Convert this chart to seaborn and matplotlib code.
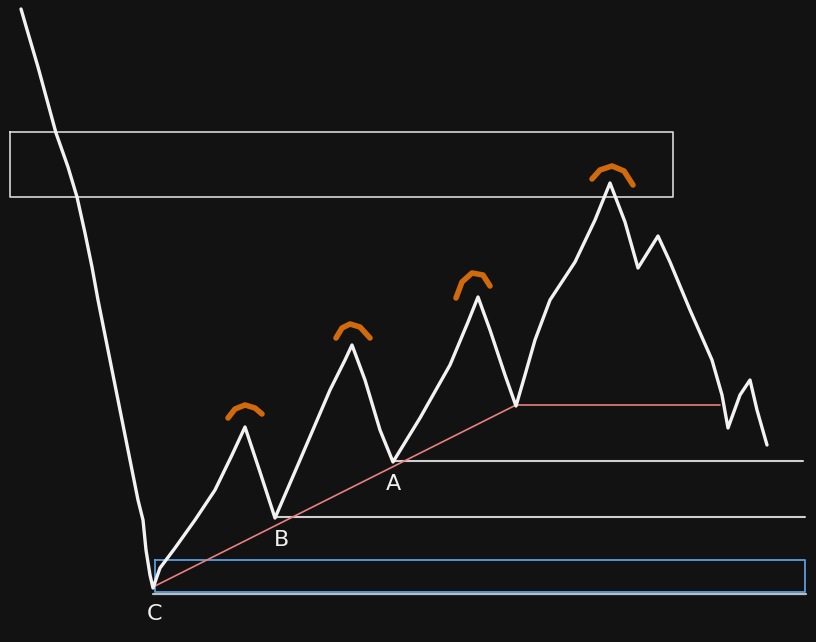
import matplotlib
matplotlib.use("Agg")
import matplotlib.pyplot as plt
import seaborn as sns

# price path sketch (pixel coords of the drawing, y grows downward)
path_x = [21, 28, 38, 47, 56, 68, 77, 85, 92, 98, 108, 118, 128, 138, 143, 146, 150, 153,
          160, 175, 195, 215, 232, 245, 260, 275, 300, 330, 345, 352, 365, 380, 393,
          420, 450, 468, 478, 490, 505, 516, 525, 535, 550, 575, 595, 610, 625, 638, 658,
          670, 690, 712, 722, 728, 740, 750, 757, 767]
path_y = [9, 33, 67, 100, 133, 167, 197, 233, 267, 300, 350, 400, 450, 500, 520, 550, 575, 588,
          568, 548, 520, 490, 455, 427, 472, 518, 460, 390, 360, 345, 380, 430, 462,
          418, 365, 322, 297, 330, 375, 406, 375, 340, 300, 262, 220, 183, 222, 268, 236,
          262, 310, 360, 395, 428, 395, 380, 410, 445]

# orange caps above the peaks
arc1_x = [228, 235, 245, 255, 262]
arc1_y = [418, 409, 405, 408, 414]
arc2_x = [336, 342, 350, 360, 370]
arc2_y = [338, 328, 324, 327, 338]
arc3_x = [456, 462, 472, 483, 490]
arc3_y = [298, 282, 273, 275, 286]
arc4_x = [592, 600, 612, 624, 633]
arc4_y = [179, 170, 166, 171, 185]

# zones / levels
top_box_x = [10, 673, 673, 10, 10]
top_box_y = [132, 132, 197, 197, 132]
blue_box_x = [155, 805, 805, 155, 155]
blue_box_y = [560, 560, 592, 592, 560]
level_a_x = [393, 803]
level_a_y = [461, 461]
level_b_x = [275, 805]
level_b_y = [517, 517]
level_c_x = [153, 806]
level_c_y = [594, 594]
trend_x = [153, 516]
trend_y = [587, 405]
red_level_x = [516, 720]
red_level_y = [405, 405]

labels = ["C", "B", "A"]
label_x = [155, 281, 393]
label_y = [614, 540, 484]

bg = "#121212"
fig = plt.figure(figsize=(8.16, 6.42), dpi=100, facecolor=bg)
ax = fig.add_axes([0, 0, 1, 1])
ax.set_facecolor(bg)

def draw(xs, ys, color, lw):
    sns.lineplot(x=xs, y=ys, sort=False, estimator=None, color=color,
                 linewidth=lw, ax=ax, solid_capstyle="round", solid_joinstyle="round")

draw(top_box_x, top_box_y, "#d8d8d8", 1.2)
draw(level_c_x, level_c_y, "#bdbdbd", 1.6)
draw(blue_box_x, blue_box_y, "#5b9ee0", 1.3)
draw(level_a_x, level_a_y, "#cfcfcf", 1.5)
draw(level_b_x, level_b_y, "#cfcfcf", 1.5)
draw(trend_x, trend_y, "#e98080", 1.2)
draw(red_level_x, red_level_y, "#e98080", 1.2)
draw(path_x, path_y, "#f2f2f2", 2.4)
for xs, ys in [(arc1_x, arc1_y), (arc2_x, arc2_y), (arc3_x, arc3_y), (arc4_x, arc4_y)]:
    draw(xs, ys, "#d06a0c", 4.0)

for t, x, y in zip(labels, label_x, label_y):
    ax.text(x, y, t, color="#f0f0f0", fontsize=16, ha="center", va="center",
            family="DejaVu Sans")

ax.set_xlim(0, 816)
ax.set_ylim(642, 0)
ax.axis("off")
fig.savefig("out.png", dpi=100, facecolor=bg)
